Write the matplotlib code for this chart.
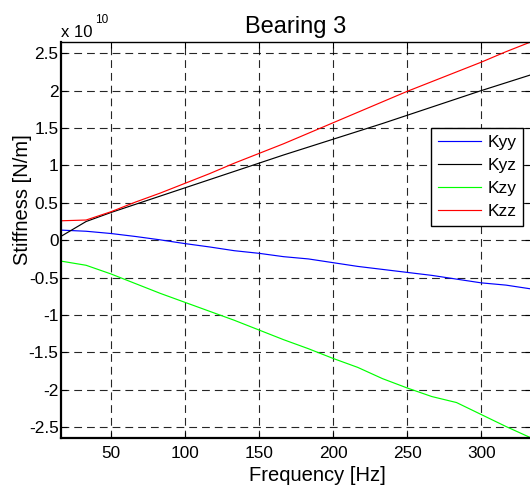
import numpy as np
import matplotlib
matplotlib.use("Agg")
import matplotlib.pyplot as plt

plt.rcParams['font.family'] = ['Liberation Sans', 'DejaVu Sans']

# Rotor speed steps expressed in Hz
freq = [1000 / 60 * k for k in range(1, 21)]

# Stiffness coefficients, in units of 1e10 N/m
kyy = [0.135, 0.12, 0.09, 0.05, 0.005, -0.045, -0.09, -0.14, -0.175, -0.22,
       -0.25, -0.30, -0.35, -0.39, -0.43, -0.47, -0.52, -0.57, -0.60, -0.65]
kyz = [0.055, 0.25, 0.37, 0.48, 0.59, 0.70, 0.81, 0.92, 1.03, 1.14,
       1.245, 1.35, 1.455, 1.56, 1.67, 1.78, 1.89, 2.00, 2.105, 2.21]
kzy = [-0.28, -0.335, -0.45, -0.58, -0.71, -0.83, -0.95, -1.07, -1.20, -1.33,
       -1.45, -1.58, -1.70, -1.85, -1.975, -2.09, -2.17, -2.33, -2.49, -2.64]
kzz = [0.26, 0.27, 0.38, 0.51, 0.63, 0.76, 0.89, 1.03, 1.16, 1.29,
       1.43, 1.57, 1.71, 1.85, 1.99, 2.12, 2.25, 2.38, 2.52, 2.65]

series = [("Kyy", kyy, (0, 0, 1)), ("Kyz", kyz, (0, 0, 0)),
          ("Kzy", kzy, (0, 1, 0)), ("Kzz", kzz, (1, 0, 0))]

xticks = [50, 100, 150, 200, 250, 300]
yticks = [-2.5, -2, -1.5, -1, -0.5, 0, 0.5, 1, 1.5, 2, 2.5]
ytick_labels = ["-2.5", "-2", "-1.5", "-1", "-0.5", "0", "0.5", "1", "1.5", "2", "2.5"]

W, H = 530, 491
fig = plt.figure(figsize=(W / 100, H / 100), dpi=100)
ax = fig.add_axes([61.4 / W, 1 - 437.7 / H, 469.2 / W, 395.7 / H])

scale = 1e10
for name, vals, col in series:
    ax.plot(freq, np.array(vals) * scale, color=col, lw=0.85, label=name)

ax.set_xlim(freq[0], freq[-1])
all_vals = np.concatenate([kyy, kyz, kzy, kzz]) * scale
ax.set_ylim(all_vals.min(), all_vals.max())

ax.set_xticks(xticks)
ax.set_xticklabels([str(t) for t in xticks])
ax.set_yticks(np.array(yticks) * scale)
ax.set_yticklabels(ytick_labels)

ax.grid(True, color='k', lw=0.8, linestyle=(0, (7, 4.5)), alpha=0.85)
ax.set_axisbelow(True)

ax.tick_params(axis='both', direction='in', length=4, width=0.8, labelsize=12.4,
               top=True, right=True)
ax.tick_params(axis='x', pad=6)
ax.tick_params(axis='y', pad=2)

for side in ['left', 'bottom']:
    ax.spines[side].set_linewidth(1.6)
ax.spines['top'].set_linewidth(1.0)
ax.spines['right'].set_linewidth(1.0)

ax.set_title("Bearing 3", fontsize=17, pad=6.5)
ax.set_xlabel("Frequency [Hz]", fontsize=14.5)
ax.set_ylabel("Stiffness [N/m]", fontsize=14.5)
ax.xaxis.set_label_coords((317 - 61.4) / 469.2, (437.7 - 466) / 395.7)
ax.yaxis.set_label_coords((32 - 61.4) / 469.2, (437.7 - 200) / 395.7)

# Exponent marker for the y axis
fig.text(61 / W, 1 - 37 / H, "x 10", fontsize=12, ha='left', va='baseline')
fig.text(95 / W, 1 - 22.7 / H, "10", fontsize=8.5, ha='left', va='baseline')

leg = ax.legend(loc='upper right', bbox_to_anchor=(523.3 / W, 1 - 127.7 / H),
                bbox_transform=fig.transFigure, borderaxespad=0,
                fontsize=12.5, handlelength=2.5, handletextpad=0.35,
                labelspacing=0.45, borderpad=0.4, fancybox=False, framealpha=1)
leg.get_frame().set_edgecolor('k')
leg.get_frame().set_linewidth(1.0)

fig.savefig("out.png", dpi=100)
